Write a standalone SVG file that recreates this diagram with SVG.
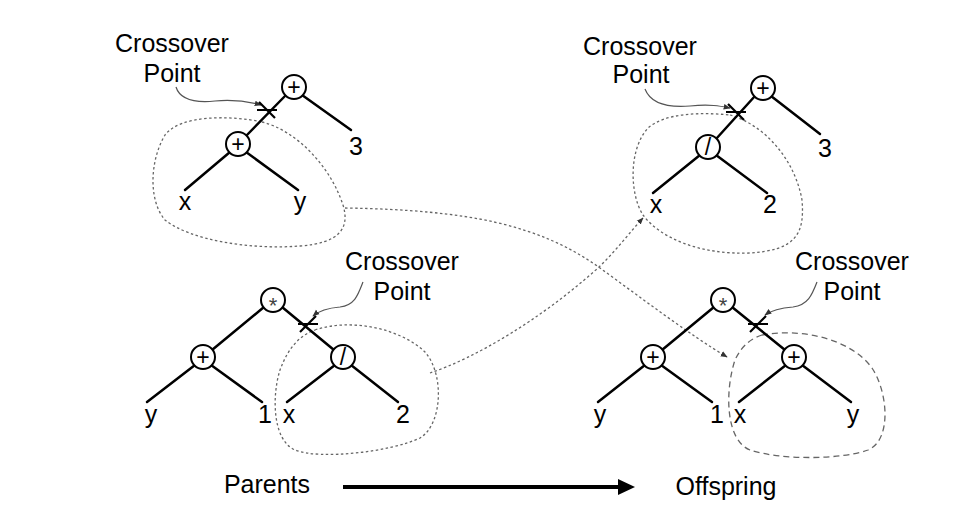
<svg xmlns="http://www.w3.org/2000/svg" width="958" height="520" viewBox="0 0 958 520">
<style>
.edge{stroke:#000;stroke-width:2.5;fill:none;stroke-linecap:round}
.op{fill:#fff;stroke:#000;stroke-width:2}
.opt{font-family:"Liberation Sans",Arial,sans-serif;font-size:23px;text-anchor:middle;fill:#000}
.ast{font-family:"Liberation Sans",Arial,sans-serif;font-size:22px;text-anchor:middle;fill:#444}
.lbl{font-family:"Liberation Sans",Arial,sans-serif;font-size:25px;text-anchor:middle;fill:#000}
.mark{stroke:#000;stroke-width:2.2;fill:none}
.lead{stroke:#555;stroke-width:1.2;fill:none}
.dot{stroke:#666;stroke-width:1.3;fill:none;stroke-dasharray:2.5 2.5}
.dash{stroke:#666;stroke-width:1.3;fill:none;stroke-dasharray:6 4}
</style>
<defs>
<marker id="ah" viewBox="0 0 10 10" refX="9" refY="5" markerWidth="7" markerHeight="7" orient="auto" markerUnits="userSpaceOnUse">
<path d="M0,1 L10,5 L0,9 Z" fill="#333"/>
</marker>
</defs>
<rect width="958" height="520" fill="#fff"/>

<g id="connectors">
<path class="dot" d="M345,208 C470,210 540,225 600,268 C640,297 690,335 727,357" marker-end="url(#ah)"/>
<path class="dot" d="M430,373 C475,358 540,320 598,268 C615,252 630,232 643,218" marker-end="url(#ah)"/>
<path class="lead" d="M176,87 C180,100 195,103 215,101 C235,99 250,102 261,105" marker-end="url(#ah)"/>
<path class="lead" d="M645,89 C650,102 665,108 690,106 C710,104 720,106 730,108" marker-end="url(#ah)"/>
<path class="lead" d="M363,282 C358,295 355,305 340,307 C328,308 320,310 313,316" marker-end="url(#ah)"/>
<path class="lead" d="M817,282 C812,295 808,305 793,307 C780,308 772,310 765,315" marker-end="url(#ah)"/>
<line x1="343" y1="487" x2="620" y2="487" stroke="#000" stroke-width="4"/>
<polygon points="618,479 635,487 618,495" fill="#000"/>
</g>

<g id="blobs">
<path class="dot" d="M262,122 C295,130 330,165 343,205 C350,228 340,243 300,246 C250,250 190,240 165,220 C148,200 150,160 165,135 C180,115 230,115 262,122 Z"/>
<path class="dot" d="M730,115 C765,125 795,160 802,200 C805,235 795,250 750,253 C700,255 660,238 643,215 C630,195 628,150 648,128 C665,113 700,112 730,115 Z"/>
<path class="dot" d="M315,330 C350,318 400,328 425,352 C445,375 442,425 420,438 C390,452 320,460 295,450 C272,440 272,395 280,370 C288,348 300,335 315,330 Z"/>
<path class="dash" d="M762,335 C800,328 850,338 872,368 C888,392 892,440 868,450 C840,460 780,460 750,450 C725,440 725,390 735,360 C742,345 752,338 762,335 Z"/>
</g>

<g id="parent1">
<line class="edge" x1="286" y1="95" x2="246" y2="136"/>
<line class="edge" x1="302" y1="95" x2="351" y2="130"/>
<line class="edge" x1="230" y1="152" x2="185" y2="190"/>
<line class="edge" x1="246" y1="152" x2="298" y2="190"/>
<circle class="op" cx="294" cy="87" r="12"/><text class="opt" x="294" y="95">+</text>
<circle class="op" cx="238" cy="144" r="12"/><text class="opt" x="238" y="152">+</text>
<text class="lbl" x="356" y="155">3</text>
<text class="lbl" x="185" y="210">x</text>
<text class="lbl" x="300" y="210">y</text>
<path class="mark" d="M257,110 L277,110 M259,102 L275,118"/>
<text class="lbl" x="172" y="52">Crossover</text>
<text class="lbl" x="172" y="82">Point</text>
</g>

<g id="offspring1">
<line class="edge" x1="755" y1="96" x2="716" y2="139"/>
<line class="edge" x1="771" y1="96" x2="820" y2="134"/>
<line class="edge" x1="700" y1="155" x2="653" y2="193"/>
<line class="edge" x1="716" y1="155" x2="767" y2="193"/>
<circle class="op" cx="763" cy="88" r="12"/><text class="opt" x="763" y="96">+</text>
<circle class="op" cx="708" cy="147" r="12"/><text class="opt" x="708" y="155">/</text>
<text class="lbl" x="825" y="157">3</text>
<text class="lbl" x="656" y="213">x</text>
<text class="lbl" x="770" y="213">2</text>
<path class="mark" d="M726,112 L746,112 M728,104 L744,120"/>
<text class="lbl" x="640" y="55">Crossover</text>
<text class="lbl" x="641" y="83">Point</text>
</g>

<g id="parent2">
<line class="edge" x1="264" y1="307" x2="212" y2="350"/>
<line class="edge" x1="282" y1="307" x2="334" y2="350"/>
<line class="edge" x1="195" y1="365" x2="147" y2="402"/>
<line class="edge" x1="211" y1="365" x2="262" y2="402"/>
<line class="edge" x1="335" y1="365" x2="287" y2="402"/>
<line class="edge" x1="351" y1="365" x2="398" y2="402"/>
<circle class="op" cx="273" cy="300" r="12"/><text class="ast" x="273" y="313">*</text>
<circle class="op" cx="203" cy="357" r="12"/><text class="opt" x="203" y="365">+</text>
<circle class="op" cx="343" cy="357" r="12"/><text class="opt" x="343" y="365">/</text>
<text class="lbl" x="151" y="423">y</text>
<text class="lbl" x="265" y="423">1</text>
<text class="lbl" x="289" y="423">x</text>
<text class="lbl" x="403" y="423">2</text>
<path class="mark" d="M298,324 L318,324 M300,332 L316,316"/>
<text class="lbl" x="402" y="270">Crossover</text>
<text class="lbl" x="402" y="300">Point</text>
</g>

<g id="offspring2">
<line class="edge" x1="714" y1="307" x2="662" y2="350"/>
<line class="edge" x1="732" y1="307" x2="785" y2="350"/>
<line class="edge" x1="645" y1="365" x2="598" y2="402"/>
<line class="edge" x1="661" y1="365" x2="712" y2="402"/>
<line class="edge" x1="786" y1="365" x2="739" y2="402"/>
<line class="edge" x1="802" y1="365" x2="851" y2="402"/>
<circle class="op" cx="723" cy="300" r="12"/><text class="ast" x="723" y="313">*</text>
<circle class="op" cx="653" cy="357" r="12"/><text class="opt" x="653" y="365">+</text>
<circle class="op" cx="794" cy="357" r="12"/><text class="opt" x="794" y="365">+</text>
<text class="lbl" x="600" y="423">y</text>
<text class="lbl" x="717" y="423">1</text>
<text class="lbl" x="740" y="423">x</text>
<text class="lbl" x="853" y="423">y</text>
<path class="mark" d="M748,324 L768,324 M750,332 L766,316"/>
<text class="lbl" x="852" y="270">Crossover</text>
<text class="lbl" x="852" y="300">Point</text>
</g>

<g id="legend">
<text class="lbl" x="267" y="493">Parents</text>
<text class="lbl" x="726" y="495">Offspring</text>
</g>
</svg>
